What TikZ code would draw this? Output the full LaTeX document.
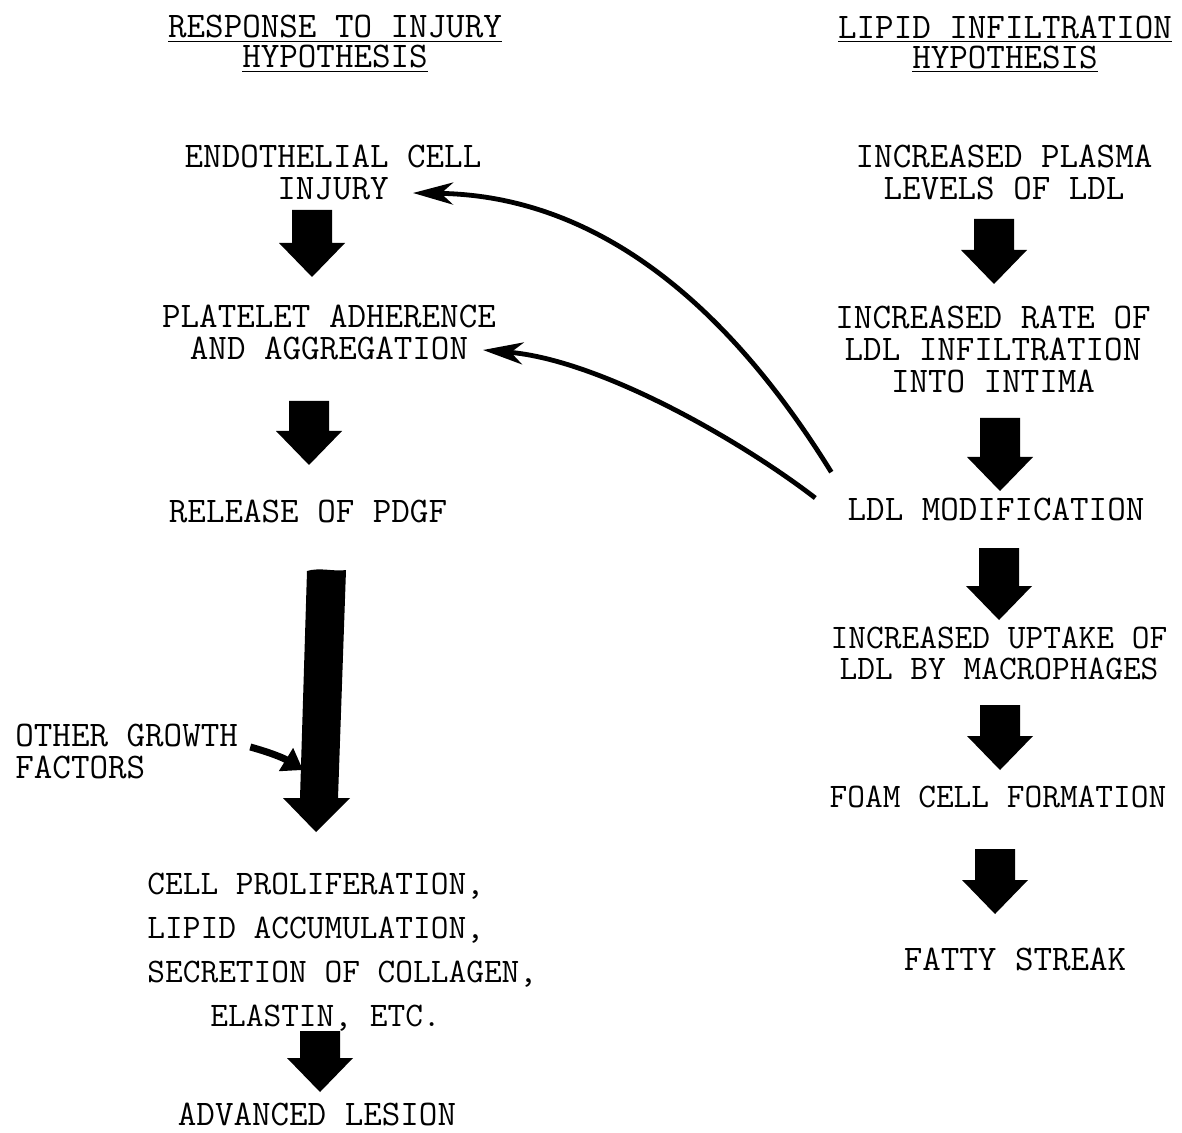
\documentclass[tikz,border=0pt]{standalone}
\usepackage{fontspec}
\usetikzlibrary{arrows.meta,positioning,calc}
\tikzset{
    stage/.style={font=\ttfamily\fontsize{18}{16}\selectfont, align=center, inner sep=0pt},
    stagesmall/.style={font=\ttfamily\fontsize{17.2}{15.5}\selectfont, align=center, inner sep=0pt},
    heading/.style={font=\ttfamily\fontsize{18}{15}\selectfont, align=center, inner sep=0pt},
    feedback/.style={line width=2.4pt, -{Stealth[length=20pt,width=11pt,inset=6pt]}},
    growth/.style={line width=3.5pt, -{Triangle[length=10pt,width=13pt]}}
}

\begin{document}
\begin{tikzpicture}[x=0.5pt,y=-0.5pt]
\useasboundingbox (0,0) rectangle (1182,1133);

% headings
\node[heading] (injuryhyp) at (335,44) {\underline{RESPONSE TO INJURY}\\\underline{HYPOTHESIS}};
\node[heading] (lipidhyp) at (1005,44) {\underline{LIPID INFILTRATION}\\\underline{HYPOTHESIS}};

% response to injury
\node[stage] (endo) at (333,172) {ENDOTHELIAL CELL\\INJURY};
\node[stage] (plat) at (329,332) {PLATELET ADHERENCE\\AND AGGREGATION};
\node[stage] (pdgf) at (308,511) {RELEASE OF PDGF};
\node[stage, align=left, anchor=west] (ogf) at (15,751) {OTHER GROWTH\\FACTORS};
\node[stage, align=left, anchor=west, font=\ttfamily\fontsize{17.2}{22}\selectfont] (prolif) at (147,952)
    {CELL PROLIFERATION,\\LIPID ACCUMULATION,\\SECRETION OF COLLAGEN,\\\hspace*{31.5pt}ELASTIN, ETC.};
\node[stage] (lesion) at (317,1114) {ADVANCED LESION};

% lipid infiltration
\node[stage] (plasma) at (1004,172) {INCREASED PLASMA\\LEVELS OF LDL};
\node[stage] (rate) at (993,349) {INCREASED RATE OF\\LDL INFILTRATION\\INTO INTIMA};
\node[stage] (ldlmod) at (996,509) {LDL MODIFICATION};
\node[stagesmall] (uptake) at (999,653) {INCREASED UPTAKE OF\\LDL BY MACROPHAGES};
\node[stagesmall] (foam) at (998,797) {FOAM CELL FORMATION};
\node[stage] (fatty) at (1015,959) {FATTY STREAK};

% block arrows (top centre x / top y / length)
\foreach \ax/\ay/\al in {312/210/67, 309/401/64, 320/1031/61, 994/219/65,
                         1000/418/73, 999/548/72, 1000/705/65, 995/849/65}{
    \fill[black] ({\ax-20},\ay) -- ({\ax+20},\ay) -- ({\ax+20},{\ay+\al-34})
        -- ({\ax+33},{\ay+\al-34}) -- (\ax,{\ay+\al}) -- ({\ax-33},{\ay+\al-34})
        -- ({\ax-20},{\ay+\al-34}) -- cycle;
}

% long arrow from PDGF
\fill[black] (307,571) .. controls (320,567) and (335,572) .. (346,570)
    -- (338,798) -- (350,798) -- (316,832) -- (283,798) -- (300,798) -- cycle;
\coordinate (longshaft) at (303,770);
\draw[growth] ($(ogf.east)+(12,-4)$) to[bend left=8] (longshaft);

% feedback from LDL modification
\coordinate (endotip) at (413,193);
\coordinate (plattip) at (483,350);
\draw[feedback] ($(ldlmod.north west)+(-16,-25)$) .. controls (700,260) and (560,195) .. (endotip);
\draw[feedback] ($(ldlmod.west)+(-32,-11)$) .. controls (740,440) and (600,360) .. (plattip);
\end{tikzpicture}
\end{document}
